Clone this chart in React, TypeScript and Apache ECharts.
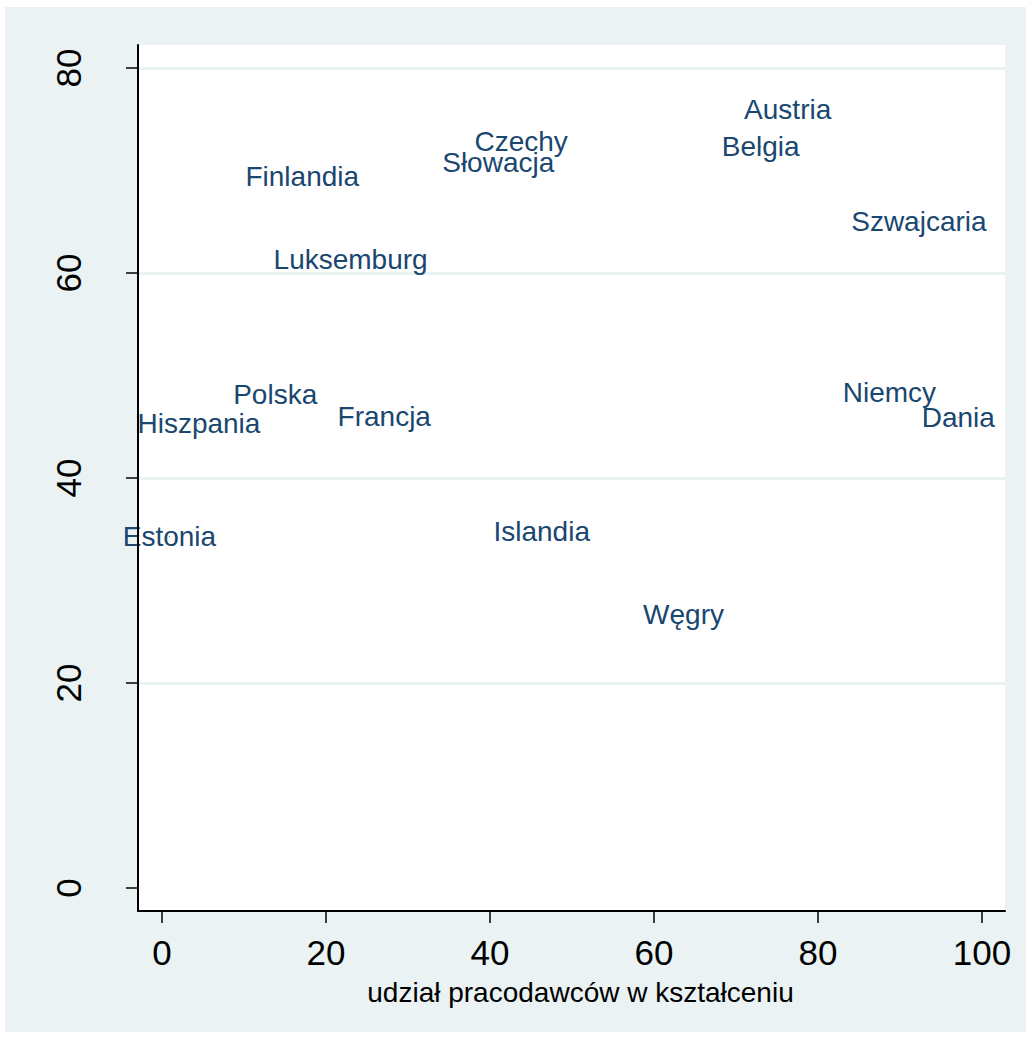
import React, { useEffect, useRef } from "react";
import * as echarts from "echarts";

const countries = [
  "Austria", "Czechy", "Słowacja", "Belgia", "Finlandia", "Szwajcaria", "Luksemburg",
  "Niemcy", "Dania", "Polska", "Hiszpania", "Francja", "Estonia", "Islandia", "Węgry",
];
const xValues = [76.3, 43.8, 41.0, 73.0, 17.1, 92.3, 23.0, 88.7, 97.1, 13.8, 4.5, 27.1, 0.9, 46.3, 63.6];
const yValues = [75.9, 72.8, 70.8, 72.3, 69.4, 65.0, 61.3, 48.3, 45.9, 48.1, 45.3, 46.0, 34.3, 34.8, 26.7];
const xTicks = [0, 20, 40, 60, 80, 100];
const yTicks = [0, 20, 40, 60, 80];
const yGrid = [20, 40, 60, 80];
const xTitle = "udział pracodawców w kształceniu";

const FONT = "'Liberation Sans', Arial, sans-serif";
const NAVY = "#1a476f";
const BG = "#eaf2f3";

export default function App() {
  const ref = useRef<HTMLDivElement>(null);
  useEffect(() => {
    if (!ref.current) return;
    const chart = echarts.init(ref.current, null, { renderer: "svg" });
    const data = countries.map((c, i) => [xValues[i], yValues[i], c]);
    chart.setOption({
      animation: false,
      backgroundColor: BG,
      grid: {
        left: 133,
        top: 38,
        width: 867,
        height: 866,
        show: true,
        backgroundColor: "#ffffff",
        borderWidth: 0,
      },
      xAxis: {
        type: "value",
        min: -2.93,
        max: 102.8,
        name: xTitle,
        nameLocation: "middle",
        nameGap: 67,
        nameTextStyle: { fontFamily: FONT, fontSize: 28, color: "#000", padding: [0, 0, 0, 18] },
        axisLine: { show: true, onZero: false, lineStyle: { color: "#000", width: 2 } },
        axisTick: { show: true, inside: false, length: 12, customValues: xTicks, lineStyle: { color: "#000", width: 1.5 } },
        axisLabel: { customValues: xTicks, fontFamily: FONT, fontSize: 35, color: "#000", margin: 24 },
        splitLine: { show: false },
        z: 10,
      },
      yAxis: {
        type: "value",
        min: -2.24,
        max: 82.24,
        axisLine: { show: true, onZero: false, lineStyle: { color: "#000", width: 2 } },
        axisTick: { show: true, inside: false, length: 12, customValues: yTicks, lineStyle: { color: "#000", width: 1.5 } },
        axisLabel: { customValues: yTicks, rotate: 90, fontFamily: FONT, fontSize: 35, color: "#000", margin: 52 },
        splitLine: { show: false },
        z: 10,
      },
      series: [
        {
          type: "scatter",
          z: 1,
          data: [],
          silent: true,
          markLine: {
            z: 1,
            silent: true,
            symbol: ["none", "none"],
            label: { show: false },
            lineStyle: { color: BG, width: 3, type: "solid", opacity: 1 },
            data: yGrid.map((v) => ({ yAxis: v })),
          },
        },
        {
          type: "scatter",
          z: 3,
          data,
          symbol: "circle",
          symbolSize: 1,
          itemStyle: { color: NAVY, opacity: 1 },
          label: {
            show: true,
            position: "inside",
            formatter: (p: any) => p.data[2],
            fontFamily: FONT,
            fontSize: 28,
            color: NAVY,
            opacity: 1,
          },
        },
      ],
    });
    return () => chart.dispose();
  }, []);
  return (
    <div
      ref={ref}
      style={{ position: "absolute", left: 5, top: 7, width: 1021, height: 1025 }}
    />
  );
}
